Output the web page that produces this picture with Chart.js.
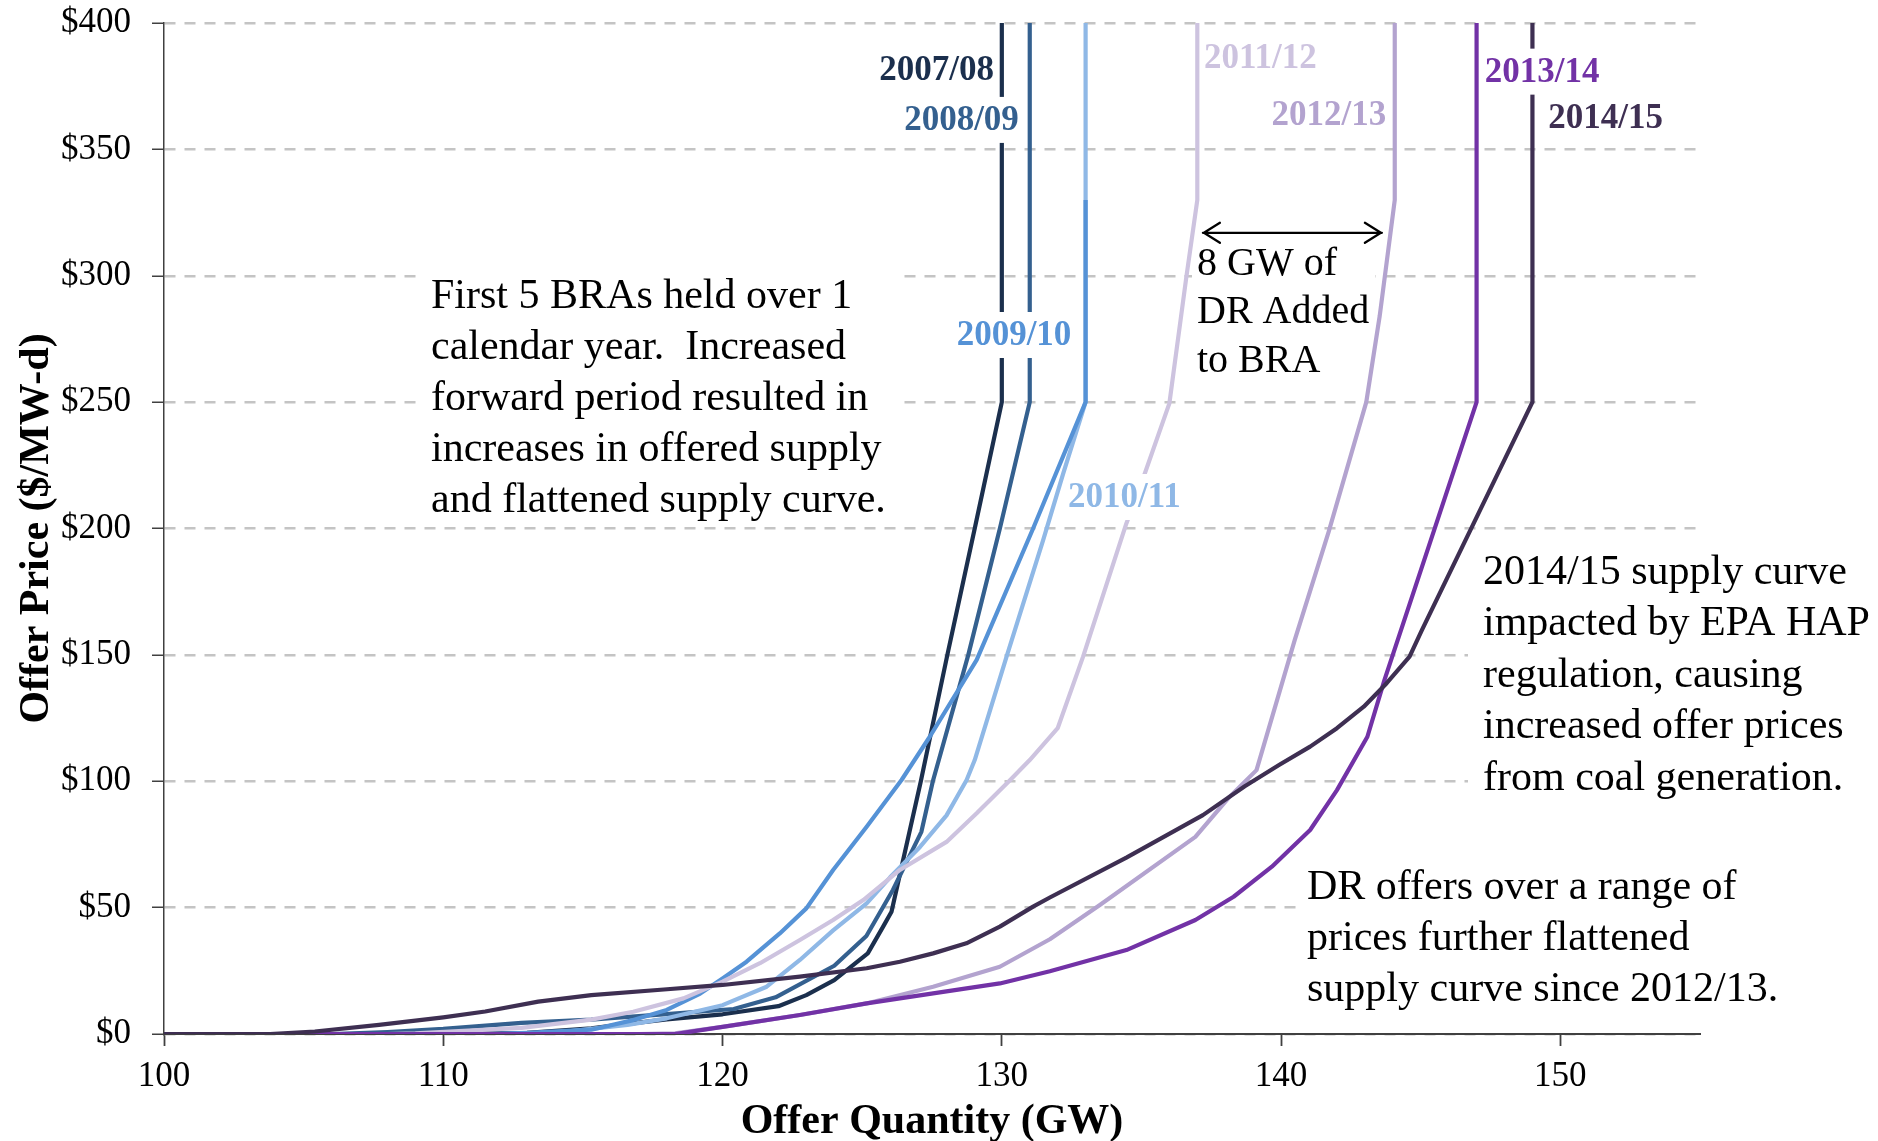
<!DOCTYPE html>
<html>
<head>
<meta charset="utf-8">
<script src="https://cdn.jsdelivr.net/npm/chart.js@4.4.1/dist/chart.umd.min.js"></script>
<style>
html,body{margin:0;padding:0;background:#ffffff;overflow:hidden}
canvas{display:block}
</style>
</head>
<body>
<canvas id="c" width="1878" height="1141"></canvas>
<script>
// ---------------- data ----------------
const seasons = ['2007/08','2008/09','2009/10','2010/11','2011/12','2012/13','2013/14','2014/15'];
const seasonColors = ['#1b2f4d','#34608f','#5592d6','#8fb8e6','#cdc3df','#b3a3cf','#7232a6','#3e2f52'];

const q0708 = [100,110,113,115.3,116,118,120,122,123,124,125.2,125.75,126.05,127.1,128.05,129.03,130,130];
const p0708 = [0,0,0.5,2.2,3.2,5.8,7.8,11,15.4,21.3,31.9,42.5,48.4,100,150,200,250,400];

const q0809 = [100,106,108,110,112.8,115.3,116,118,120.4,121.9,124,125.15,126.1,127.12,127.53,128.8,129.93,131,131];
const p0809 = [0,0,0.8,2,4.4,5.7,6.3,7.9,9.9,14.5,27,38.8,57,80,100,150,200,250,400];

const q0910 = [100,111.5,113,115.3,116.8,118,119.2,120,120.86,122.05,123,123.96,125.16,126.41,127.42,129.1,131.12,133,133];
const p0910 = [0,0,0.5,1.7,5.5,9.5,16,22,28.6,39.8,49.7,64.9,82,100.5,117.6,148,200,250,330];

const q1011 = [100,112,114,116.6,118,120,121.58,122.77,123.96,125.16,126,127.07,128.02,128.74,129.03,130.17,131.48,132.2,133,133];
const p1011 = [0,0,0.5,3.6,6.2,11.4,18.7,29.3,41,51.7,62,74,86.5,100.5,108.4,149.3,195.4,221.8,250,400];

const q1112 = [100,108,109,112.8,115.3,116.8,118.6,120,121.34,122.77,123.96,125.04,126.35,128.02,129.1,130.3,131,132,132.91,134.46,135.12,136,136.61,137,137];
const p1112 = [0,0,0.3,2.4,5.7,8.8,14.1,20.7,28,37.2,45.1,53,64.9,76,87.3,100.5,108.4,121,149.3,202,221.8,249.5,299.7,330,400];

const q1213 = [100,117,118.3,120,122.77,125.16,127.54,129.93,131.72,133.51,136.93,138.16,139.12,140.49,141.7,143.05,143.53,144.07,144.07];
const p1213 = [0,0,0.3,2.8,7.5,12.1,18.7,26.6,37.5,51,78,93.9,104.4,155.9,198.6,250,284,330,400];

const q1314 = [100,118.3,120,122.77,125.16,127.54,129.93,131.72,134.46,136.93,138.3,139.67,141.04,142,143.09,143.7,147,147];
const p1314 = [0,0,2.8,7.5,12.1,16.1,20,24.8,33.2,45.1,54.3,66.2,80.7,96.5,117.6,140,250,400];

const q1415 = [100,103.8,105.4,107.7,110,111.5,113.4,115.3,117.9,120,122.77,125.16,126.35,127.54,128.73,129.93,131.12,131.72,134.46,137.2,138.7,139.94,141.04,142,142.96,143.78,144.6,145.05,149,149];
const p1415 = [0,0,1,3.6,6.6,8.9,12.8,15.4,17.6,19.4,22.7,26,28.6,31.9,35.9,42.5,50.4,54,69.8,86.6,98,106.5,113.7,121,129.5,138.8,149.3,160,250,400];

const quantities = [q0708,q0809,q0910,q1011,q1112,q1213,q1314,q1415];
const prices     = [p0708,p0809,p0910,p1011,p1112,p1213,p1314,p1415];

const xTicks = [100,110,120,130,140,150];
const yTicks = [0,50,100,150,200,250,300,350,400];

// ---------------- styling / annotation layout ----------------
const drawOrder = [7,6,4,5,3,2,1,0]; // lower = drawn on top
const SERIF = '"Liberation Serif", "Times New Roman", serif';

// year labels: anchor in data units (x = GW, y = $ at text baseline)
const yearLabels = [
  {i:0, x:129.72, y:377.4, align:'right', gap:false},
  {i:1, x:130.61, y:357.7, align:'right', gap:true, padL:6, padR:6},
  {i:2, x:132.49, y:272.6, align:'right', gap:true, padL:6, padR:6},
  {i:3, x:132.37, y:208.5, align:'left',  gap:true, padL:2, padR:6},
  {i:4, x:137.24, y:382.2, align:'left',  gap:false},
  {i:5, x:139.66, y:359.6, align:'left',  gap:false},
  {i:6, x:147.29, y:376.8, align:'left',  gap:true, padL:3, padR:4},
  {i:7, x:149.57, y:358.5, align:'left',  gap:false}
];

const notes = [
  {box:[422,262,902,522], x:431, base:308, step:51, size:42,
   lines:['First 5 BRAs held over 1','calendar year.  Increased','forward period resulted in','increases in offered supply','and flattened supply curve.']},
  {box:[1192,240,1375,385], x:1197, base:275, step:48.4, size:40,
   lines:['8 GW of','DR Added','to BRA']},
  {box:[1468,538,1878,800], x:1483, base:583.5, step:51.5, size:42,
   lines:['2014/15 supply curve','impacted by EPA HAP','regulation, causing','increased offer prices','from coal generation.']},
  {box:[1297,860,1878,1022], x:1307, base:898.5, step:51.2, size:42,
   lines:['DR offers over a range of','prices further flattened','supply curve since 2012/13.']}
];
const arrowSpan = {x1:137.2, x2:143.61, y:317};

const annotPlugin = {
  id:'annot',
  beforeDatasetsDraw(chart){
    const ctx = chart.ctx;
    ctx.save();
    notes.forEach(n=>{
      ctx.fillStyle = '#ffffff';
      ctx.fillRect(n.box[0], n.box[1], n.box[2]-n.box[0], n.box[3]-n.box[1]);
      ctx.fillStyle = '#000000';
      ctx.font = n.size + 'px ' + SERIF;
      ctx.textAlign = 'left';
      ctx.textBaseline = 'alphabetic';
      n.lines.forEach((t,k)=> ctx.fillText(t, n.x, n.base + k*n.step));
    });
    ctx.restore();
  },
  afterDatasetsDraw(chart){
    const ctx = chart.ctx;
    const xs = chart.scales.x, ys = chart.scales.y;
    ctx.save();
    ctx.font = 'bold 35px ' + SERIF;
    ctx.textBaseline = 'alphabetic';
    yearLabels.forEach(l=>{
      const txt = seasons[l.i];
      const w = ctx.measureText(txt).width;
      const px = xs.getPixelForValue(l.x);
      const py = ys.getPixelForValue(l.y);
      const left = l.align === 'right' ? px - w : px;
      if (l.gap) {
        ctx.fillStyle = '#ffffff';
        ctx.fillRect(left - l.padL, py - 33, w + l.padL + l.padR, 46);
      }
      ctx.fillStyle = seasonColors[l.i];
      ctx.textAlign = 'left';
      ctx.fillText(txt, left, py);
    });
    // double arrow
    const ax1 = xs.getPixelForValue(arrowSpan.x1), ax2 = xs.getPixelForValue(arrowSpan.x2);
    const ay = ys.getPixelForValue(arrowSpan.y);
    ctx.strokeStyle = '#000000';
    ctx.lineWidth = 2.3;
    ctx.lineCap = 'round';
    ctx.beginPath();
    ctx.moveTo(ax1, ay); ctx.lineTo(ax2, ay);
    ctx.moveTo(ax1 + 17, ay - 10); ctx.lineTo(ax1 + 1, ay); ctx.lineTo(ax1 + 17, ay + 10);
    ctx.moveTo(ax2 - 17, ay - 10); ctx.lineTo(ax2 - 1, ay); ctx.lineTo(ax2 - 17, ay + 10);
    ctx.stroke();
    ctx.restore();
  }
};

const datasets = seasons.map((s,i)=>({
  label: s,
  data: quantities[i].map((x,k)=>({x:x, y:prices[i][k]})),
  borderColor: seasonColors[i],
  backgroundColor: seasonColors[i],
  borderWidth: 4.2,
  pointRadius: 0,
  tension: 0,
  fill: false,
  order: drawOrder[i],
  borderJoinStyle: 'round'
}));

new Chart(document.getElementById('c').getContext('2d'), {
  type: 'line',
  data: {datasets},
  plugins: [annotPlugin],
  options: {
    responsive: false,
    animation: false,
    events: [],
    layout: {padding: {left:0, top:23, right:178, bottom:0}},
    plugins: {legend:{display:false}, tooltip:{enabled:false}},
    scales: {
      x: {
        type: 'linear', min: 100, max: 155,
        afterBuildTicks: s => { s.ticks = xTicks.map(v => ({value:v})); },
        afterFit: s => { s.height = 107; s.paddingLeft = 0; s.paddingRight = 0; },
        ticks: {font:{family:SERIF, size:35}, color:'#000', padding:10, maxRotation:0, autoSkip:false},
        grid: {display:true, drawOnChartArea:false, drawTicks:true, tickLength:12, tickColor:'#404040', tickWidth:1.8},
        border: {display:true, color:'#404040', width:2},
        title: {display:true, text:'Offer Quantity (GW)', color:'#000',
                font:{family:SERIF, size:42, weight:'bold'}, padding:{top:0, bottom:-6}}
      },
      y: {
        type: 'linear', min: 0, max: 400,
        afterBuildTicks: s => { s.ticks = yTicks.map(v => ({value:v})); },
        afterFit: s => { s.width = 164; s.paddingTop = 0; s.paddingBottom = 0; },
        ticks: {font:{family:SERIF, size:35}, color:'#000', padding:21, callback: v => '$' + v},
        grid: {color:'#c4c4c4', lineWidth:2.5, tickLength:12, tickColor:'#404040', tickWidth:1.5, tickBorderDash:[]},
        border: {display:true, color:'#404040', width:1.5, dash:[11,9]},
        title: {display:true, text:'Offer Price ($/MW-d)', color:'#000',
                font:{family:SERIF, size:42, weight:'bold'}, padding:{top:12, bottom:0}}
      }
    }
  }
});
</script>
</body>
</html>
